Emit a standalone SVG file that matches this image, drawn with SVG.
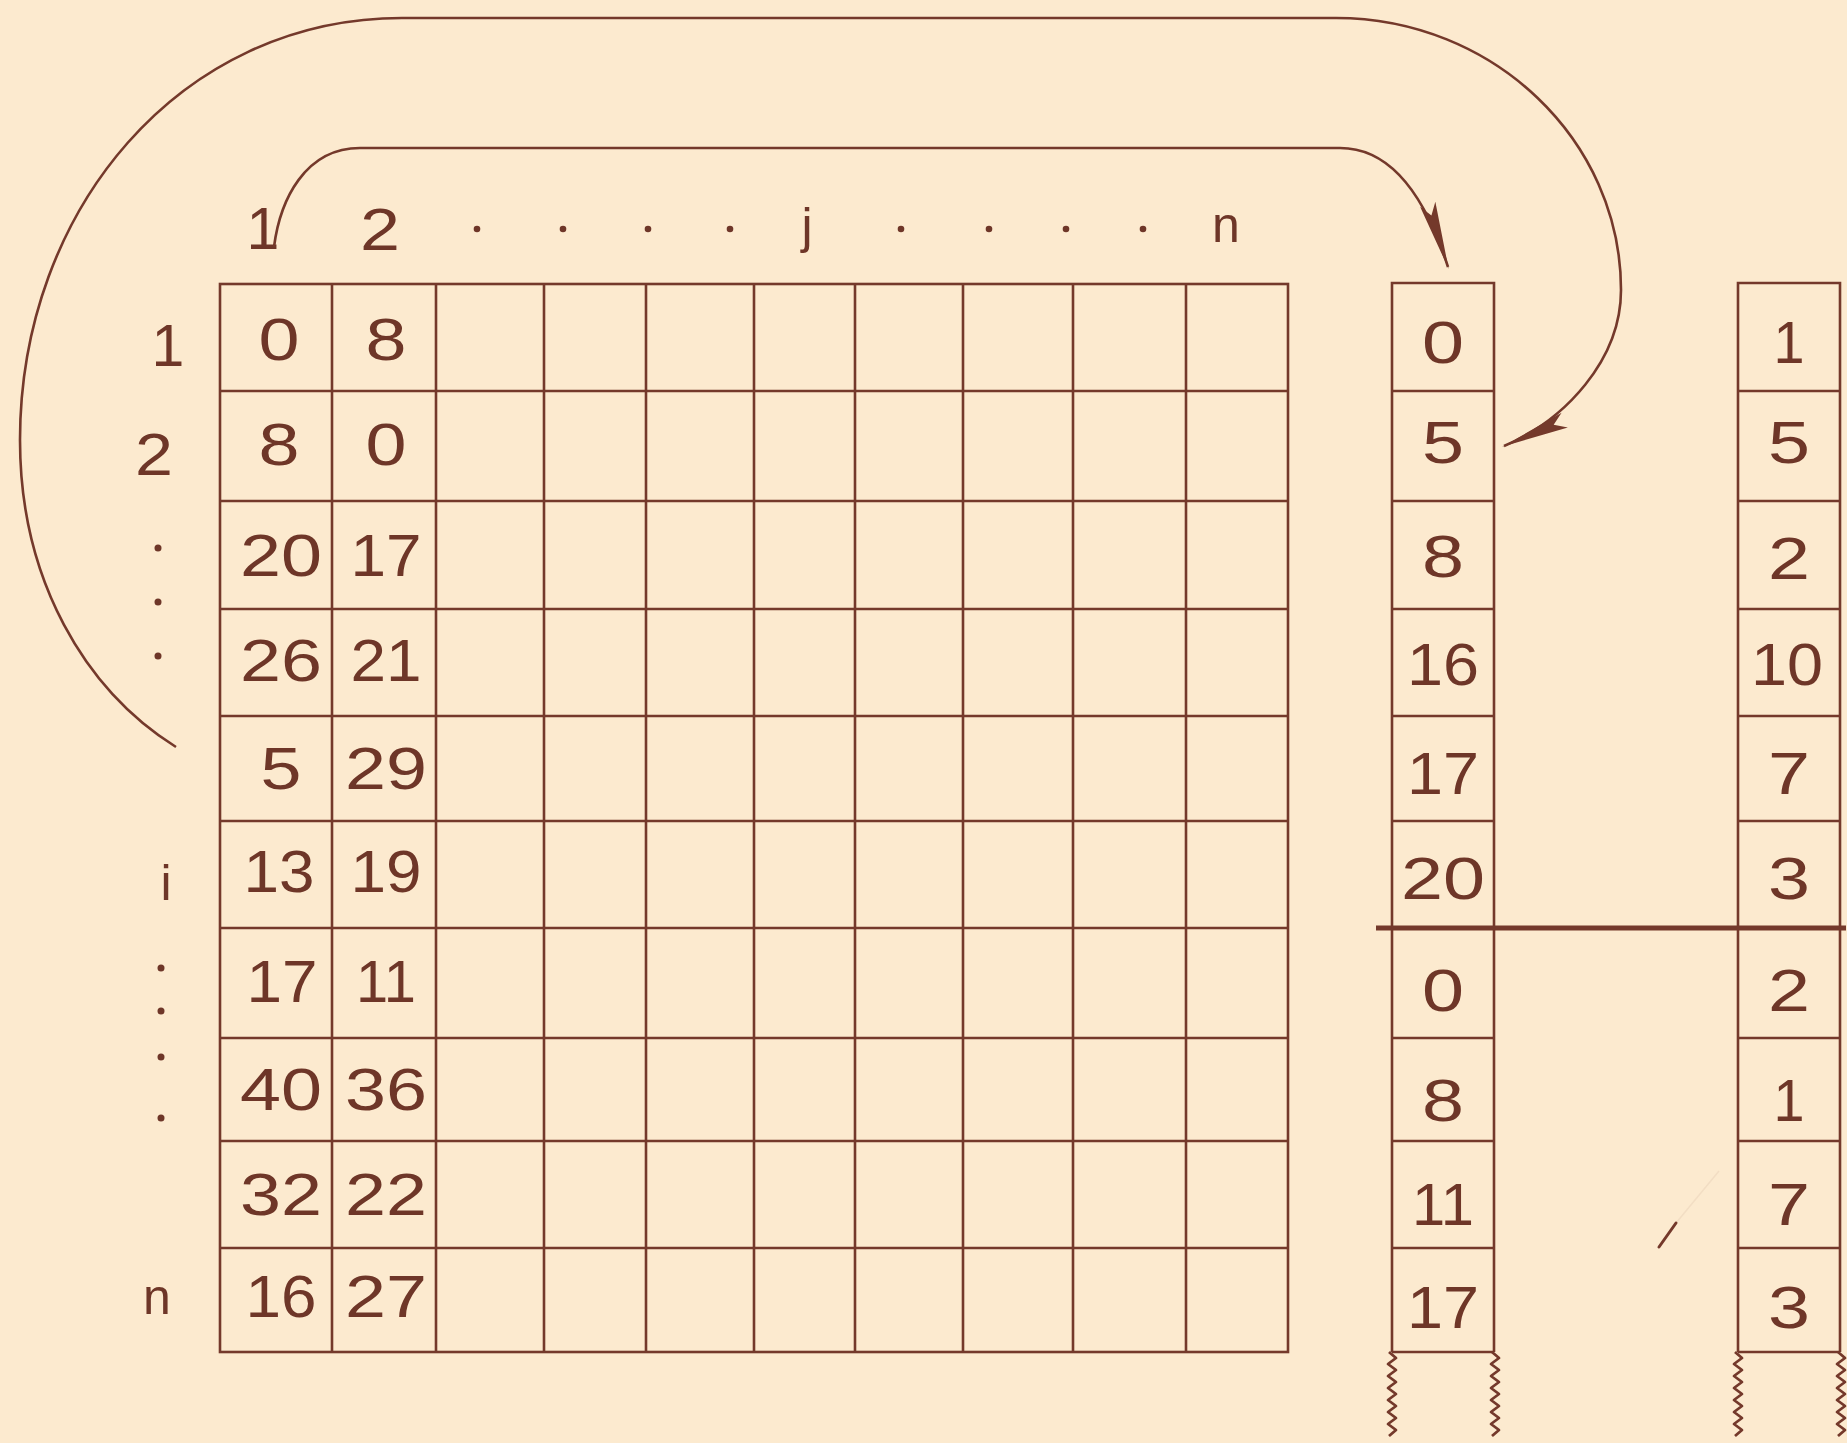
<svg xmlns="http://www.w3.org/2000/svg" width="1847" height="1443" viewBox="0 0 1847 1443">
<style>
.ln{stroke:#74392b;stroke-width:2.6;fill:none}
.wv{stroke:#74392b;stroke-width:2.8;fill:none;stroke-linejoin:round}
.thick{stroke:#74392b;stroke-width:5;fill:none}
.arc{stroke:#74392b;stroke-width:2.6;fill:none}
.t{font-family:"Liberation Sans",Arial,sans-serif;font-size:59px;fill:#6e3628;text-anchor:middle}
.c{font-size:60px}
.lc{font-size:50px}
.dot{fill:#6e3628}
</style>
<defs>
<marker id="dart" markerUnits="userSpaceOnUse" markerWidth="90" markerHeight="30" viewBox="-80 -15 90 30" refX="0" refY="0" orient="auto">
<path d="M2,0 L-66,-8 L-54,0 L-66,8 Z" fill="#74392b"/>
</marker>
</defs>
<rect x="0" y="0" width="1847" height="1443" fill="#fceacf"/>

<g id="col-labels">
<text class="t" x="263" y="249">1</text>
<text class="t" x="380" y="250" textLength="40" lengthAdjust="spacingAndGlyphs">2</text>
<circle class="dot" cx="477" cy="229" r="3.3"/>
<circle class="dot" cx="563" cy="229" r="3.3"/>
<circle class="dot" cx="648" cy="229" r="3.3"/>
<circle class="dot" cx="730" cy="229" r="3.3"/>
<text class="t lc" x="807" y="243">j</text>
<circle class="dot" cx="901" cy="229" r="3.3"/>
<circle class="dot" cx="989" cy="229" r="3.3"/>
<circle class="dot" cx="1066" cy="229" r="3.3"/>
<circle class="dot" cx="1143" cy="229" r="3.3"/>
<text class="t lc" x="1226" y="242">n</text>
</g>

<g id="row-labels">
<text class="t" x="168" y="366">1</text>
<text class="t" x="154" y="475" textLength="38" lengthAdjust="spacingAndGlyphs">2</text>
<circle class="dot" cx="158" cy="548" r="3.5"/>
<circle class="dot" cx="158" cy="602" r="3.5"/>
<circle class="dot" cx="158" cy="656" r="3.5"/>
<text class="t lc" x="166" y="900">i</text>
<circle class="dot" cx="161" cy="968" r="3.5"/>
<circle class="dot" cx="161" cy="1011" r="3.5"/>
<circle class="dot" cx="161" cy="1057" r="3.5"/>
<circle class="dot" cx="161" cy="1118" r="3.5"/>
<text class="t lc" x="157" y="1314">n</text>
</g>

<g id="matrix">
<rect class="ln" x="220" y="284" width="1068" height="1068"/>
<path class="ln" d="M332,284V1352M436,284V1352M544,284V1352M646,284V1352M754,284V1352M855,284V1352M963,284V1352M1073,284V1352M1186,284V1352"/>
<path class="ln" d="M220,391H1288M220,501H1288M220,609H1288M220,716H1288M220,821H1288M220,928H1288M220,1038H1288M220,1141H1288M220,1248H1288"/>
<text class="t" x="279" y="360" textLength="41" lengthAdjust="spacingAndGlyphs">0</text>
<text class="t" x="386" y="360" textLength="41" lengthAdjust="spacingAndGlyphs">8</text>
<text class="t" x="279" y="465" textLength="41" lengthAdjust="spacingAndGlyphs">8</text>
<text class="t" x="386" y="465" textLength="41" lengthAdjust="spacingAndGlyphs">0</text>
<text class="t" x="281" y="576" textLength="82" lengthAdjust="spacingAndGlyphs">20</text>
<text class="t" x="386" y="576" textLength="71" lengthAdjust="spacingAndGlyphs">17</text>
<text class="t" x="281" y="681" textLength="82" lengthAdjust="spacingAndGlyphs">26</text>
<text class="t" x="386" y="681" textLength="71" lengthAdjust="spacingAndGlyphs">21</text>
<text class="t" x="281" y="789" textLength="41" lengthAdjust="spacingAndGlyphs">5</text>
<text class="t" x="386" y="789" textLength="82" lengthAdjust="spacingAndGlyphs">29</text>
<text class="t" x="279" y="892" textLength="71" lengthAdjust="spacingAndGlyphs">13</text>
<text class="t" x="386" y="892" textLength="71" lengthAdjust="spacingAndGlyphs">19</text>
<text class="t" x="282" y="1002" textLength="71" lengthAdjust="spacingAndGlyphs">17</text>
<text class="t" x="386" y="1002" textLength="60" lengthAdjust="spacingAndGlyphs">11</text>
<text class="t" x="281" y="1110" textLength="82" lengthAdjust="spacingAndGlyphs">40</text>
<text class="t" x="386" y="1110" textLength="82" lengthAdjust="spacingAndGlyphs">36</text>
<text class="t" x="281" y="1215" textLength="82" lengthAdjust="spacingAndGlyphs">32</text>
<text class="t" x="386" y="1215" textLength="82" lengthAdjust="spacingAndGlyphs">22</text>
<text class="t" x="281" y="1317" textLength="71" lengthAdjust="spacingAndGlyphs">16</text>
<text class="t" x="386" y="1317" textLength="82" lengthAdjust="spacingAndGlyphs">27</text>
</g>

<g id="list-distances">
<path class="ln" d="M1392,1352V283H1494V1352"/>
<path class="ln" d="M1392,391H1494M1392,501H1494M1392,609H1494M1392,716H1494M1392,821H1494M1392,1038H1494M1392,1141H1494M1392,1248H1494M1392,1352H1494"/>
<path class="wv" d="M1389,1352l7,6l-8,6l8,6l-8,6l8,6l-8,6l8,6l-8,6l8,6l-8,6l8,6l-8,6l8,6l-7,6"/>
<path class="wv" d="M1492,1352l7,6l-8,6l8,6l-8,6l8,6l-8,6l8,6l-8,6l8,6l-8,6l8,6l-8,6l8,6l-7,6"/>
<text class="t c" x="1443" y="363" textLength="42" lengthAdjust="spacingAndGlyphs">0</text>
<text class="t c" x="1443" y="463" textLength="42" lengthAdjust="spacingAndGlyphs">5</text>
<text class="t c" x="1443" y="577" textLength="42" lengthAdjust="spacingAndGlyphs">8</text>
<text class="t c" x="1443" y="685" textLength="72" lengthAdjust="spacingAndGlyphs">16</text>
<text class="t c" x="1443" y="794" textLength="72" lengthAdjust="spacingAndGlyphs">17</text>
<text class="t c" x="1443" y="899" textLength="84" lengthAdjust="spacingAndGlyphs">20</text>
<text class="t c" x="1443" y="1011" textLength="42" lengthAdjust="spacingAndGlyphs">0</text>
<text class="t c" x="1443" y="1121" textLength="42" lengthAdjust="spacingAndGlyphs">8</text>
<text class="t c" x="1443" y="1225" textLength="62" lengthAdjust="spacingAndGlyphs">11</text>
<text class="t c" x="1443" y="1328" textLength="72" lengthAdjust="spacingAndGlyphs">17</text>
</g>

<g id="list-indices">
<path class="ln" d="M1738,1352V283H1840V1352"/>
<path class="ln" d="M1738,391H1840M1738,501H1840M1738,609H1840M1738,716H1840M1738,821H1840M1738,1038H1840M1738,1141H1840M1738,1248H1840M1738,1352H1840"/>
<path class="wv" d="M1735,1352l7,6l-8,6l8,6l-8,6l8,6l-8,6l8,6l-8,6l8,6l-8,6l8,6l-8,6l8,6l-7,6"/>
<path class="wv" d="M1838,1352l7,6l-8,6l8,6l-8,6l8,6l-8,6l8,6l-8,6l8,6l-8,6l8,6l-8,6l8,6l-7,6"/>
<text class="t c" x="1789" y="363" textLength="31" lengthAdjust="spacingAndGlyphs">1</text>
<text class="t c" x="1789" y="463" textLength="42" lengthAdjust="spacingAndGlyphs">5</text>
<text class="t c" x="1789" y="579" textLength="42" lengthAdjust="spacingAndGlyphs">2</text>
<text class="t c" x="1787" y="685" textLength="72" lengthAdjust="spacingAndGlyphs">10</text>
<text class="t c" x="1789" y="794" textLength="42" lengthAdjust="spacingAndGlyphs">7</text>
<text class="t c" x="1789" y="899" textLength="42" lengthAdjust="spacingAndGlyphs">3</text>
<text class="t c" x="1789" y="1011" textLength="42" lengthAdjust="spacingAndGlyphs">2</text>
<text class="t c" x="1789" y="1121" textLength="31" lengthAdjust="spacingAndGlyphs">1</text>
<text class="t c" x="1789" y="1225" textLength="42" lengthAdjust="spacingAndGlyphs">7</text>
<text class="t c" x="1789" y="1328" textLength="42" lengthAdjust="spacingAndGlyphs">3</text>
</g>

<g id="separator">
<line class="thick" x1="1376" y1="928" x2="1846" y2="928"/>
</g>

<g id="marks">
<path d="M1659,1247L1676,1223" stroke="#74392b" stroke-width="3" stroke-linecap="round" fill="none"/>
<path d="M1676,1223L1719,1171" stroke="#74392b" stroke-width="1.5" stroke-opacity="0.07" fill="none"/>
</g>

<g id="connectors">
<path class="arc" d="M176,747C85,690 20,580 20,440C20,210 180,18 402,18L1336,18C1493,18 1621,140 1621,290C1621,360 1565,420 1504,446" marker-end="url(#dart)"/>
<path class="arc" d="M274,247C280,200 305,148 360,148L1340,148C1395,148 1428,205 1448,267" marker-end="url(#dart)"/>
</g>
</svg>
